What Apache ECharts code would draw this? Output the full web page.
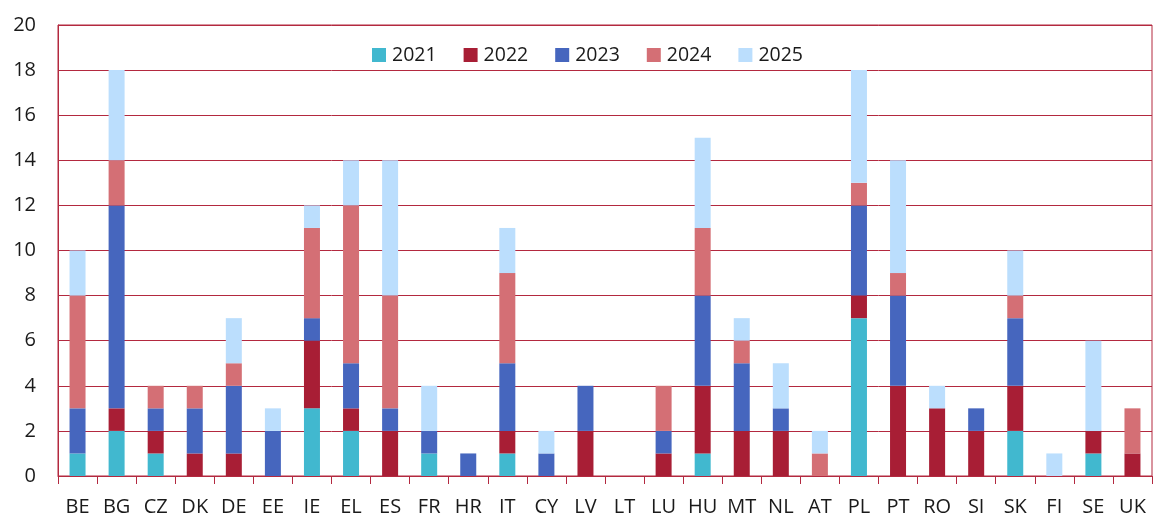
<!DOCTYPE html>
<html>
<head>
<meta charset="utf-8">
<script src="https://cdn.jsdelivr.net/npm/echarts@6/dist/echarts.min.js"></script>
<style>html,body{margin:0;padding:0;background:#fff}#c{width:1153px;height:518px}</style>
</head>
<body>
<div id="c"></div>
<script>
const categories = ['BE','BG','CZ','DK','DE','EE','IE','EL','ES','FR','HR','IT','CY','LV','LT','LU','HU','MT','NL','AT','PL','PT','RO','SI','SK','FI','SE','UK'];
const seriesNames = ['2021','2022','2023','2024','2025'];
const y2021 = [1,2,1,0,0,0,3,2,0,1,0,1,0,0,0,0,1,0,0,0,7,0,0,0,2,0,1,0];
const y2022 = [0,1,1,1,1,0,3,1,2,0,0,1,0,2,0,1,3,2,2,0,1,4,3,2,2,0,1,1];
const y2023 = [2,9,1,2,3,2,1,2,1,1,1,3,1,2,0,1,4,3,1,0,4,4,0,1,3,0,0,0];
const y2024 = [5,2,1,1,1,0,4,7,5,0,0,4,0,0,0,2,3,1,0,1,1,1,0,0,1,0,0,2];
const y2025 = [2,4,0,0,2,1,1,2,6,2,0,2,1,0,0,0,4,1,2,1,5,5,1,0,2,1,4,0];
const yTicks = [0,2,4,6,8,10,12,14,16,18,20];

const colors = ['#41b8cf','#a81e35','#4666be','#d46f75','#bbdefd'];
const values = [y2021,y2022,y2023,y2024,y2025];
const gridColor = '#b3293f';

const chart = echarts.init(document.getElementById('c'), null, {renderer:'canvas'});
chart.setOption({
  animation:false,
  backgroundColor:'#fff',
  textStyle:{fontFamily:'Open Sans'},
  grid:{left:58,right:1,top:25,bottom:42,show:true,borderColor:gridColor,borderWidth:1,backgroundColor:'transparent'},
  legend:{
    top:40,left:367,itemWidth:14,itemHeight:14,itemGap:27,
    icon:'rect',
    textStyle:{fontSize:19.5,color:'#1a1a1a',fontFamily:'Open Sans',padding:[0,0,0,1]},
    data:seriesNames
  },
  xAxis:{
    type:'category',data:categories,
    axisLine:{lineStyle:{color:gridColor,width:1}},
    axisTick:{show:true,length:8,alignWithLabel:false,lineStyle:{color:gridColor}},
    axisLabel:{fontSize:20,color:'#1a1a1a',margin:21,fontFamily:'Open Sans'}
  },
  yAxis:{
    type:'value',min:yTicks[0],max:yTicks[yTicks.length-1],interval:2,
    axisLine:{show:true,lineStyle:{color:gridColor,width:1}},
    axisTick:{show:false},
    splitLine:{lineStyle:{color:gridColor,width:1}},
    axisLabel:{fontSize:20,color:'#1a1a1a',margin:22,fontFamily:'Open Sans'}
  },
  series: seriesNames.map((n,i)=>({
    name:n,type:'bar',stack:'total',data:values[i],barWidth:16,
    itemStyle:{color:colors[i]}
  }))
});
</script>
</body>
</html>
